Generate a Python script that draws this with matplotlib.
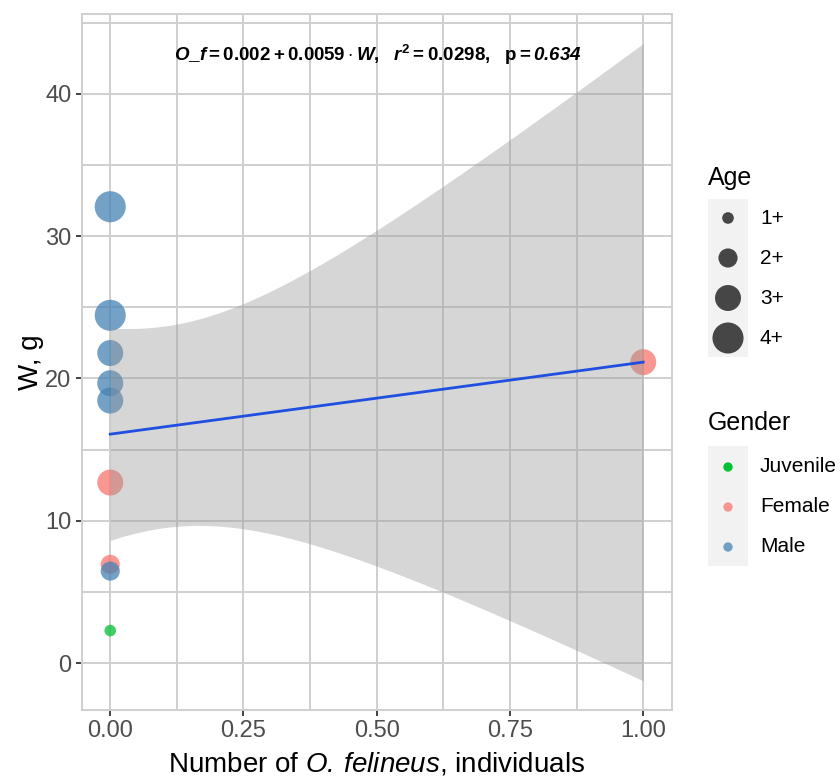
import numpy as np
import matplotlib.pyplot as plt
from matplotlib.ticker import FormatStrFormatter, MultipleLocator

plt.rcParams['font.family'] = ['Liberation Sans', 'DejaVu Sans']
plt.rcParams['mathtext.fontset'] = 'custom'
plt.rcParams['mathtext.rm'] = 'Liberation Sans:bold'
plt.rcParams['mathtext.it'] = 'Liberation Sans:italic:bold'
plt.rcParams['mathtext.bf'] = 'Liberation Sans:bold'
plt.rcParams['mathtext.tt'] = 'Liberation Sans:italic:bold'
plt.rcParams['mathtext.sf'] = 'Liberation Sans:italic'

#%% data
n_ofel = [0, 0, 0, 0, 0, 0, 0, 0, 0, 1]
weight = [32.06, 24.43, 21.78, 19.66, 18.44, 12.68, 6.93, 6.46, 2.28, 21.14]
gender = ['Male', 'Male', 'Male', 'Male', 'Male', 'Female', 'Female', 'Male', 'Juvenile', 'Female']
age = ['4+', '4+', '3+', '3+', '3+', '3+', '2+', '2+', '1+', '3+']

gender_levels = ['Juvenile', 'Female', 'Male']
age_levels = ['1+', '2+', '3+', '4+']
gender_colors = {'Juvenile': '#00C034', 'Female': '#F8766D', 'Male': '#4682B4'}
age_sizes = {'1+': 70, '2+': 190, '3+': 350, '4+': 500}

annot = r'$O\_f = 0.002 + 0.0059 \cdot W,\ \ r^2 = 0.0298,\ \ \mathrm{p} = \mathtt{0.634}$'

#%% linear fit W ~ n with 95% band
x = np.array(n_ofel, dtype=float)
y = np.array(weight)
slope, intercept = np.polyfit(x, y, 1)
resid = y - (intercept + slope * x)
s = np.sqrt(np.sum(resid**2) / (len(x) - 2))
t_crit = 2.306  # t(0.975, df=8)
xs = np.linspace(0, 1, 80)
se = s * np.sqrt(1 / len(x) + (xs - x.mean())**2 / np.sum((x - x.mean())**2))
fit = intercept + slope * xs

#%% plot
fig = plt.figure(figsize=(8.4, 7.81), dpi=100)
ax = fig.add_axes([82/840, 71/781, 590/840, 696/781])

grid_col = '#CFCFCF'
ax.set_xlim(-0.053, 1.054)
ax.set_ylim(-3.3, 45.6)
ax.xaxis.set_major_locator(MultipleLocator(0.25))
ax.xaxis.set_minor_locator(MultipleLocator(0.125))
ax.yaxis.set_major_locator(MultipleLocator(10))
ax.yaxis.set_minor_locator(MultipleLocator(5))
ax.xaxis.set_major_formatter(FormatStrFormatter('%.2f'))
ax.grid(which='both', color=grid_col, lw=1.4)
ax.set_axisbelow(True)
for sp in ax.spines.values():
    sp.set_color(grid_col)
    sp.set_linewidth(1.4)
ax.tick_params(which='major', length=4, width=1.3, color='#333333',
               labelsize=17, labelcolor='#4D4D4D')
ax.tick_params(which='minor', length=0)

for xi, yi, g, a in zip(n_ofel, weight, gender, age):
    ax.scatter(xi, yi, s=age_sizes[a], color=gender_colors[g], alpha=0.75,
               edgecolors='none', zorder=3)

ax.fill_between(xs, fit - t_crit * se, fit + t_crit * se, color='#999999',
                alpha=0.4, lw=0, zorder=4)
ax.plot(xs, fit, color='#1F4FE0', lw=2, zorder=5)

ax.text(0.502, 42.7, annot, ha='center', va='center', fontsize=13.5, zorder=6)

ax.set_xlabel(r'Number of $\mathsf{O.\,felineus}$, individuals', fontsize=20, labelpad=6)
ax.set_ylabel('W, g', fontsize=20, labelpad=1)

# legends drawn by hand, in pixel coordinates of the figure
lg = fig.add_axes([0, 0, 1, 1], zorder=10)
lg.set_xlim(0, 840)
lg.set_ylim(781, 0)
lg.axis('off')
lg.patch.set_alpha(0)

key_bg = '#F2F2F2'
lg.text(708, 178, 'Age', fontsize=18, va='center', ha='left')
lg.add_patch(plt.Rectangle((708, 199), 40, 158, color=key_bg, lw=0))
for i, a in enumerate(age_levels):
    yy = 218 + i * 40
    lg.scatter(728, yy, s=age_sizes[a], color='#333333', alpha=0.9, edgecolors='none')
    lg.text(760, yy, a, fontsize=15, va='center', ha='left')

lg.text(708, 423, 'Gender', fontsize=18, va='center', ha='left')
lg.add_patch(plt.Rectangle((708, 446), 40, 120, color=key_bg, lw=0))
for i, g in enumerate(gender_levels):
    yy = 467 + i * 40
    lg.scatter(728, yy, s=45, color=gender_colors[g], alpha=0.75 if g != 'Juvenile' else 1,
               edgecolors='none')
    lg.text(760, yy, g, fontsize=15, va='center', ha='left')

plt.savefig('out.png', dpi=100)
